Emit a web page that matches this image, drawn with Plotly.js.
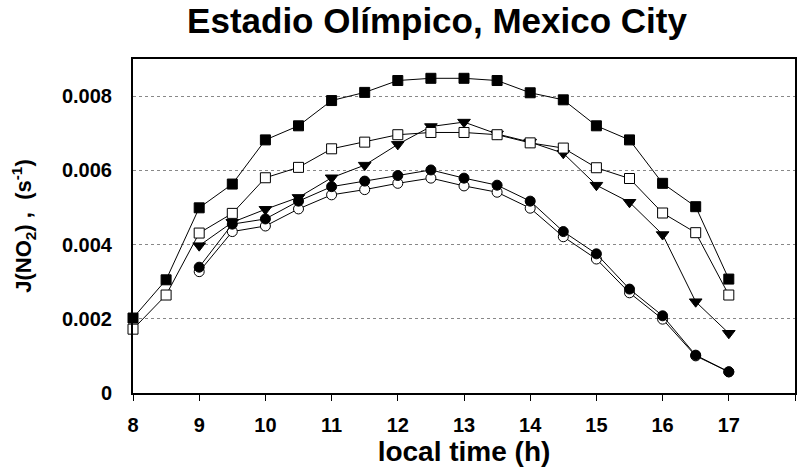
<!DOCTYPE html>
<html><head><meta charset="utf-8">
<script src="https://cdn.plot.ly/plotly-3.0.1.min.js"></script>
<style>html,body{margin:0;padding:0;background:#fff}#c{width:804px;height:469px}</style>
</head><body><div id="c"></div>
<script>
const hoursFull = [8,8.5,9,9.5,10,10.5,11,11.5,12,12.5,13,13.5,14,14.5,15,15.5,16,16.5,17];
const hoursLate = [9,9.5,10,10.5,11,11.5,12,12.5,13,13.5,14,14.5,15,15.5,16,16.5,17];
const filledSquare = [0.00202,0.00305,0.00499,0.00563,0.00682,0.0072,0.00788,0.0081,0.00842,0.00848,0.00848,0.00842,0.00809,0.0079,0.0072,0.00682,0.00565,0.00502,0.00307];
const openSquare = [0.00172,0.00264,0.00431,0.00484,0.0058,0.00608,0.00658,0.00676,0.00696,0.00702,0.00702,0.00696,0.00674,0.0066,0.00607,0.00578,0.00485,0.00432,0.00264];
const filledTriangle = [0.00397,0.0046,0.00495,0.00527,0.0058,0.00614,0.0067,0.00718,0.0073,0.00698,0.00676,0.00646,0.0056,0.00514,0.00427,0.00246,0.00161];
const filledCircle = [0.00339,0.00455,0.00469,0.00517,0.00556,0.00571,0.00586,0.00601,0.00579,0.0056,0.00517,0.00435,0.00375,0.0028,0.00208,0.00102,0.00057];
const openCircle = [0.00327,0.00435,0.0045,0.00496,0.00534,0.00548,0.00565,0.00579,0.00558,0.00541,0.00498,0.00421,0.00361,0.0027,0.00199,0.001,0.00057];
const xTicks = [8,9,10,11,12,13,14,15,16,17,18];
const yTicks = [0,0.002,0.004,0.006,0.008];
const yTickText = ['0','0.002','0.004','0.006','0.008'];

const F = 'Liberation Sans, Arial, sans-serif';
function tr(x, y, sym, fill){
  return {x:x, y:y, type:'scatter', mode:'lines+markers',
    line:{color:'#000', width:1},
    marker:{symbol:sym, size:sym.indexOf('triangle')>=0?11:10, color: fill?'#000':'#fff', line:{color:'#000', width:1}},
    showlegend:false, cliponaxis:false};
}
const data = [
  tr(hoursLate, openCircle, 'circle', false),
  tr(hoursLate, filledCircle, 'circle', true),
  tr(hoursLate, filledTriangle, 'triangle-down', true),
  tr(hoursFull, openSquare, 'square', false),
  tr(hoursFull, filledSquare, 'square', true)
];
const layout = {
  width:804, height:469,
  margin:{l:133, r:9, t:59, b:76},
  paper_bgcolor:'#fff', plot_bgcolor:'#fff',
  font:{family:F, color:'#000'},
  title:{text:'<b>Estadio Olímpico, Mexico City</b>', font:{size:35, family:F, color:'#000'}, x:437/804, xanchor:'center', yref:'container', y:0.982, yanchor:'top'},
  xaxis:{range:[8,18], tickvals:xTicks, ticktext:xTicks.map(String), ticks:'outside', ticklen:6, tickwidth:1, tickcolor:'#000',
    showline:true, linecolor:'#000', linewidth:2, mirror:true, showgrid:false, zeroline:false,
    tickfont:{size:20, family:F, color:'#000', weight:'bold'}, ticklabelstandoff:7,
    title:{text:'<b>local time (h)</b>', font:{size:28, family:F, color:'#000'}, standoff:6}},
  yaxis:{range:[0,0.009], tickvals:yTicks, ticktext:yTickText, ticks:'',
    showline:true, linecolor:'#000', linewidth:2, mirror:true, showgrid:true, gridcolor:'#888', griddash:'dot', gridwidth:1, zeroline:false,
    tickfont:{size:20, family:F, color:'#000', weight:'bold'}, ticklabelstandoff:15,
    title:{text:'<b>J(NO<sub>2</sub>) ,  (s<sup>-1</sup>)</b>', font:{size:22, family:F, color:'#000'}, standoff:24}}
};
Plotly.newPlot('c', data, layout, {displayModeBar:false, staticPlot:true});
</script>
</body></html>
